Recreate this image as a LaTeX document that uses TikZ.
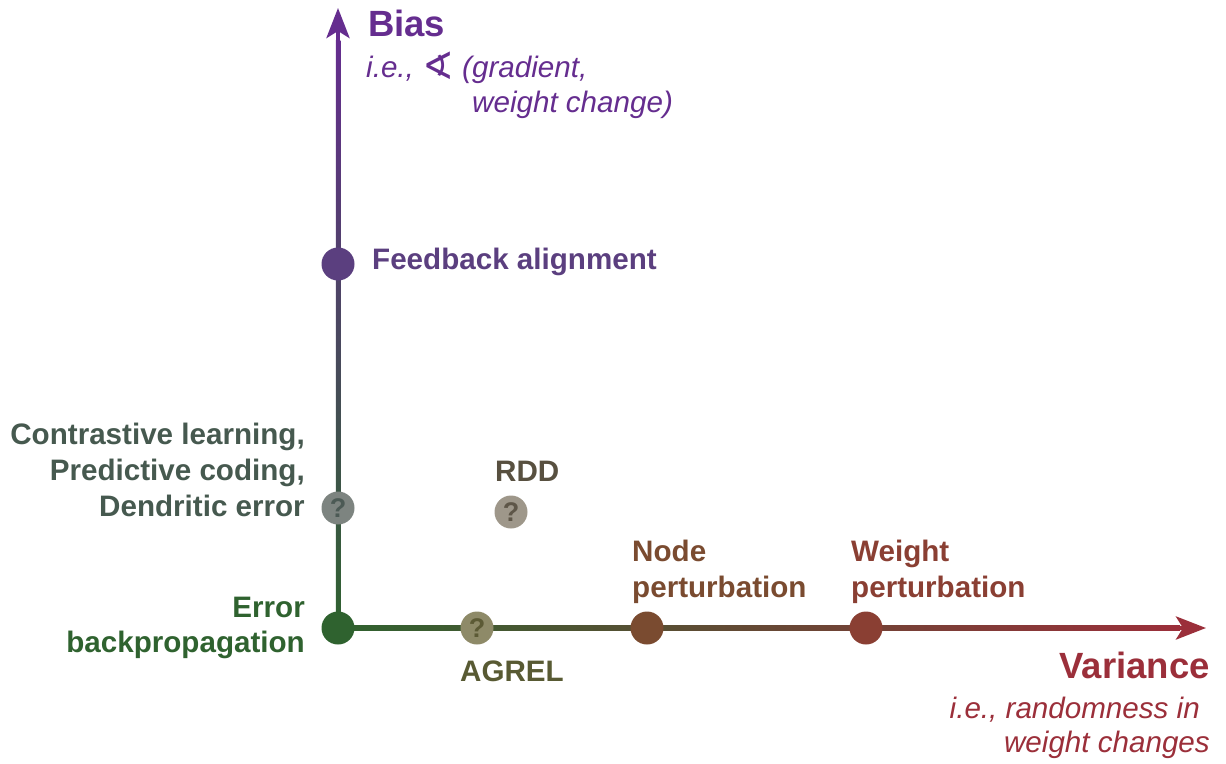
\documentclass[tikz,border=0pt]{standalone}
\usepackage{fontspec}
\setmainfont{Liberation Sans}
\newfontfamily\symfont{DejaVu Sans}
\usetikzlibrary{arrows.meta,calc}
\definecolor{cBias}{HTML}{652D8F}
\definecolor{cFA}{HTML}{5B3F7F}
\definecolor{cCL}{HTML}{46594F}
\definecolor{cRDD}{HTML}{585040}
\definecolor{cBP}{HTML}{2F622F}
\definecolor{cAG}{HTML}{585A33}
\definecolor{cNP}{HTML}{7A4B30}
\definecolor{cWP}{HTML}{8A3F33}
\definecolor{cVar}{HTML}{9B2F3A}
\definecolor{cMidV}{HTML}{554A6E}
\definecolor{cMidH}{HTML}{74502E}
\definecolor{qVf}{HTML}{7D8480}
\definecolor{qVt}{HTML}{4C5A55}
\definecolor{qRf}{HTML}{9E978A}
\definecolor{qRt}{HTML}{5E5648}
\definecolor{qAf}{HTML}{8E8A68}
\definecolor{qAt}{HTML}{5C5A35}
\tikzset{
  lbl/.style={inner sep=0pt, font=\fontsize{29.6}{35}\selectfont\bfseries},
  big/.style={inner sep=0pt, font=\fontsize{36.5}{42}\selectfont\bfseries},
  itl/.style={inner sep=0pt, font=\fontsize{29.6}{35}\selectfont\itshape},
  dot/.style={circle, inner sep=0pt, minimum size=33pt},
  qdot/.style={circle, inner sep=0pt, minimum size=33pt, text=#1,
    font=\fontsize{27}{27}\selectfont\bfseries},
  tip/.style={line width=4.5pt, -{Stealth[length=30pt,width=23pt,inset=7pt]}}
}
\begin{document}
\begin{tikzpicture}[x=1pt,y=-1pt]
\useasboundingbox (0,0) rectangle (1226,763);
% axis ends
\coordinate (ytip) at (338,8);
\coordinate (xtip) at (1206,628);
\coordinate (ybase) at (338,48);
\coordinate (xbase) at (1166,628);
% axis bodies (shaded)
\shade[top color=cBias, middle color=cMidV, bottom color=cBP]
  (335.75,40) rectangle (340.25,630.25);
\shade[left color=cBP, middle color=cMidH, right color=cVar]
  (336,625.75) rectangle (1180,630.25);
\draw[tip, cBias] (ybase) -- (ytip);
\draw[tip, cVar] (xbase) -- (xtip);
% dots
\node[dot, fill=cBP] (bp) at (338,628) {};
\node[dot, fill=cFA] (fa) at (338,264) {};
\node[qdot=qVt, fill=qVf] (cl) at (338,508) {?};
\node[qdot=qRt, fill=qRf] (rdd) at (511,512) {?};
\node[qdot=qAt, fill=qAf] (ag) at (477,628) {?};
\node[dot, fill=cNP] (np) at (647,628) {};
\node[dot, fill=cWP] (wp) at (866,628) {};
% labels
\node[big, text=cBias, anchor=base west] (biasT) at (368,36) {Bias};
\node[itl, text=cBias, anchor=base west] (biasI1) at (366,77) {i.e., {\symfont\fontsize{38}{38}\selectfont\raisebox{-2pt}{∢}} (gradient,};
\node[itl, text=cBias, anchor=base west] (biasI2) at (472,112) {weight change)};
\node[lbl, text=cFA, anchor=base west] (faT) at (372,269) {Feedback alignment};
\node[lbl, text=cCL, anchor=base east] (cl1) at (305,444) {Contrastive learning,};
\node[lbl, text=cCL, anchor=base east] (cl2) at (305,480) {Predictive coding,};
\node[lbl, text=cCL, anchor=base east] (cl3) at (305,516) {Dendritic error};
\node[lbl, text=cRDD, anchor=base west] (rddT) at (495,481) {RDD};
\node[lbl, text=cBP, anchor=base east] (bp1) at (305,617) {Error};
\node[lbl, text=cBP, anchor=base east] (bp2) at (305,652) {backpropagation};
\node[lbl, text=cAG, anchor=base] (agT) at (512,681) {AGREL};
\node[lbl, text=cNP, anchor=base west] (np1) at (632,561) {Node};
\node[lbl, text=cNP, anchor=base west] (np2) at (632,597) {perturbation};
\node[lbl, text=cWP, anchor=base west] (wp1) at (851,561) {Weight};
\node[lbl, text=cWP, anchor=base west] (wp2) at (851,597) {perturbation};
\node[big, text=cVar, anchor=base east] (varT) at (1210,678) {Variance};
\node[itl, text=cVar, anchor=base east] (var1) at (1200,718) {i.e., randomness in};
\node[itl, text=cVar, anchor=base east] (var2) at (1210,752) {weight changes};
\end{tikzpicture}
\end{document}
